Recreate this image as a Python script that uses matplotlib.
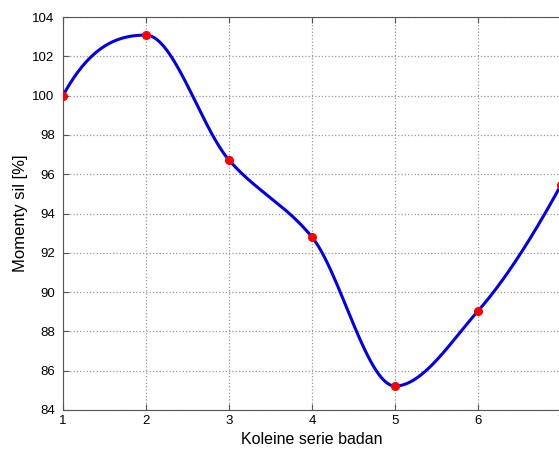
import numpy as np
import matplotlib
matplotlib.use('Agg')
import matplotlib.pyplot as plt

serie = [1, 2, 3, 4, 5, 6, 7]
momenty = [100.0, 103.08, 96.72, 92.8, 85.22, 89.04, 95.45]


def pchip(x, y, xs):
    # shape preserving hermite interpolation (matlab pchip)
    x = np.asarray(x, float)
    y = np.asarray(y, float)
    n = len(x)
    h = np.diff(x)
    d = np.diff(y) / h
    m = np.zeros(n)
    for k in range(1, n - 1):
        if d[k - 1] * d[k] > 0:
            w1 = 2 * h[k] + h[k - 1]
            w2 = h[k] + 2 * h[k - 1]
            m[k] = (w1 + w2) / (w1 / d[k - 1] + w2 / d[k])
    # end slopes
    def end_slope(h0, h1, d0, d1):
        s = ((2 * h0 + h1) * d0 - h0 * d1) / (h0 + h1)
        if np.sign(s) != np.sign(d0):
            s = 0.0
        elif np.sign(d0) != np.sign(d1) and abs(s) > abs(3 * d0):
            s = 3 * d0
        return s
    m[0] = end_slope(h[0], h[1], d[0], d[1])
    m[-1] = end_slope(h[-1], h[-2], d[-1], d[-2])
    idx = np.clip(np.searchsorted(x, xs) - 1, 0, n - 2)
    hh = h[idx]
    t = (xs - x[idx]) / hh
    h00 = 2 * t**3 - 3 * t**2 + 1
    h10 = t**3 - 2 * t**2 + t
    h01 = -2 * t**3 + 3 * t**2
    h11 = t**3 - t**2
    return (h00 * y[idx] + h10 * hh * m[idx]
            + h01 * y[idx + 1] + h11 * hh * m[idx + 1])


plt.rcParams['font.family'] = ['Liberation Sans', 'DejaVu Sans']

fig = plt.figure(figsize=(5.59, 4.5), dpi=100)
ax = fig.add_axes([63 / 559, 40 / 450, 498 / 559, 393 / 450])

xs = np.linspace(1, 7, 400)
ax.plot(xs, pchip(serie, momenty, xs), color='#0000ee', lw=2.2, zorder=3)
ax.plot(serie, momenty, 'o', color='red', ms=5.5, zorder=4)

ax.set_xlim(1, 7)
ax.set_ylim(84, 104)
ax.set_xticks(serie)
ax.set_yticks(range(84, 105, 2))
ax.grid(True, linestyle=':', color='#999999', lw=0.9)
ax.tick_params(direction='in', labelsize=9.5, length=4, color='#555555',
               top=True)
ax.tick_params(axis='y', pad=6)
for s in ax.spines.values():
    s.set_color('#555555')

ax.set_xlabel('Koleine serie badan', fontsize=11.5, labelpad=4)
ax.set_ylabel('Momenty sil [%]', fontsize=12, labelpad=3)

fig.savefig('out.png', dpi=100)
